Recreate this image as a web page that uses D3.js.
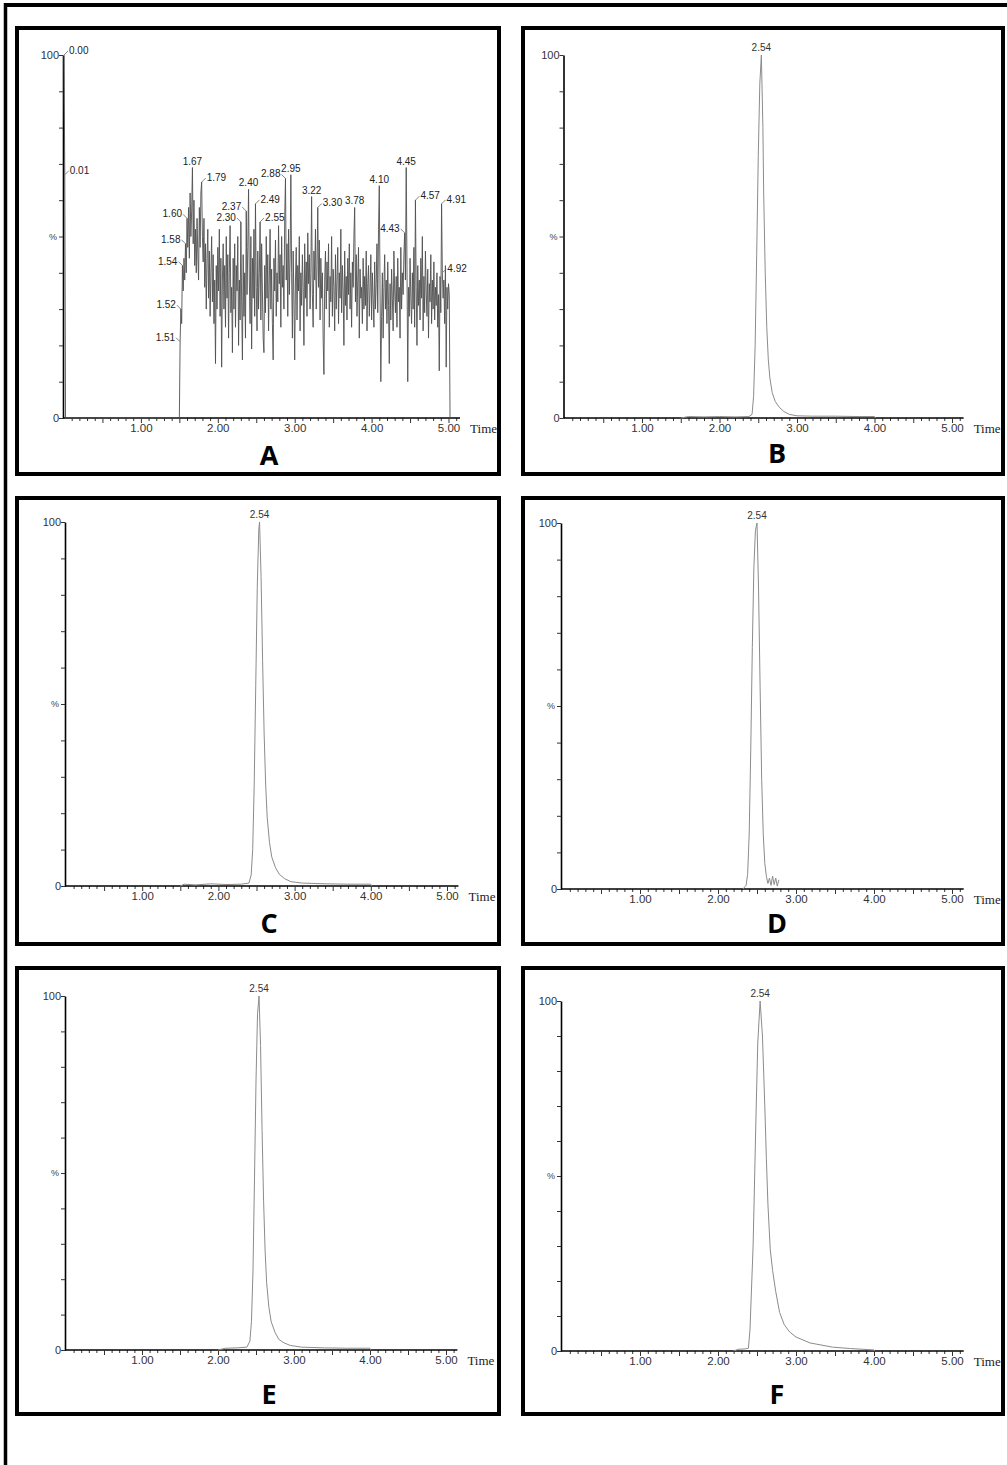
<!DOCTYPE html>
<html>
<head>
<meta charset="utf-8">
<script src="https://cdn.jsdelivr.net/npm/d3@7"></script>
<style>
  body { margin: 0; background: #fff; }
  svg { display: block; }
  .tick text { font-family: "Liberation Sans", Arial, sans-serif; }
</style>
</head>
<body>
<div id="chart"></div>
<script>
// tick labels
const xTickLabels = ["1.00", "2.00", "3.00", "4.00", "5.00"];
const yTickLabels = ["0", "100"];

// A - noisy trace (blank)
const aLeadTime = [0.00, 0.01, 0.02, 1.50];
const aLeadValue = [100, 67, 0, 0];
const aScanStart = 1.51, aScanStep = 0.01;   // scan rate of the record
const aScanValue = [
  21, 30, 26, 42, 35, 44, 38, 48, 40, 55,
  47, 58, 44, 62, 50, 57, 69, 48, 60, 42,
  52, 40, 55, 45, 38, 58, 47, 62, 65, 50,
  43, 55, 36, 48, 30, 44, 52, 33, 46, 28,
  40, 50, 32, 45, 26, 38, 15, 42, 30, 47,
  35, 52, 28, 44, 14, 38, 48, 30, 42, 25,
  50, 33, 45, 22, 40, 53, 29, 36, 18, 44,
  30, 48, 25, 42, 35, 50, 20, 38, 27, 54,
  32, 16, 45, 28, 40, 22, 57, 34, 47, 63,
  38, 26, 50, 19, 44, 33, 52, 28, 59, 36,
  24, 46, 30, 40, 54, 27, 48, 35, 22, 18,
  42, 29, 50, 33, 45, 24, 38, 52, 30, 41,
  26, 16, 44, 35, 49, 28, 40, 32, 53, 37,
  45, 25, 50, 36, 42, 30, 55, 66, 38, 48,
  28, 52, 34, 44, 67, 40, 22, 46, 33, 16,
  38, 47, 27, 42, 35, 50, 24, 40, 31, 45,
  36, 20, 48, 33, 43, 28, 51, 37, 45, 30,
  40, 61, 34, 25, 46, 38, 52, 30, 42, 58,
  36, 49, 27, 44, 33, 40, 22, 12, 38, 46,
  30, 43, 35, 48, 25, 39, 32, 50, 28, 41,
  36, 24, 45, 30, 38, 47, 26, 40, 33, 52,
  29, 42, 35, 20, 46, 31, 39, 27, 44, 34,
  48, 30, 40, 25, 43, 36, 50, 58, 32, 45,
  28, 38, 47, 22, 41, 33, 36, 26, 44, 30,
  39, 31, 46, 24, 37, 42, 28, 35, 45, 27,
  40, 33, 25, 43, 30, 37, 48, 29, 52, 64,
  35, 10, 28, 40, 22, 36, 45, 30, 38, 26,
  43, 31, 15, 37, 27, 41, 33, 24, 46, 35,
  29, 39, 25, 44, 32, 36, 22, 47, 30, 40,
  34, 45, 51, 38, 69, 42, 10, 36, 28, 44,
  33, 26, 40, 30, 47, 25, 60, 36, 20, 42,
  31, 38, 27, 44, 33, 50, 24, 39, 29, 46,
  35, 28, 41, 22, 37, 32, 45, 26, 38, 30,
  43, 27, 36, 31, 40, 25, 34, 13, 39, 29,
  59, 40, 33, 38, 26, 42, 14, 36, 30, 37,
  34
];
const aTailTime = [5.02];
const aTailValue = [0];
const aPeakLabels = ["0.00", "0.01", "1.51", "1.52", "1.54", "1.58", "1.60", "1.67", "1.79",
  "2.30", "2.37", "2.40", "2.49", "2.55", "2.88", "2.95", "3.22", "3.30", "3.78",
  "4.10", "4.43", "4.45", "4.57", "4.91", "4.92"];

// B - E : single peak at 2.54
const bTime  = [1.50, 1.60, 1.80, 2.00, 2.20, 2.38, 2.42, 2.44, 2.46, 2.48, 2.50, 2.52, 2.54, 2.56, 2.57, 2.59, 2.61, 2.63, 2.65, 2.68, 2.72, 2.77, 2.83, 2.90, 3.00, 3.20, 3.50, 3.80, 4.00, 4.01];
const bValue = [0, 0.4, 0.3, 0.4, 0.3, 0.4, 1, 6, 20, 45, 72, 92, 100, 80, 62, 40, 25, 16, 11, 7, 4.5, 3, 1.8, 1, 0.6, 0.5, 0.5, 0.4, 0.4, 0];

const cTime  = [1.50, 1.55, 1.70, 1.90, 2.10, 2.30, 2.40, 2.43, 2.45, 2.47, 2.49, 2.51, 2.53, 2.54, 2.56, 2.58, 2.60, 2.62, 2.64, 2.67, 2.70, 2.75, 2.80, 2.87, 2.95, 3.10, 3.40, 3.70, 4.00, 4.01];
const cValue = [0, 0.5, 0.3, 0.6, 0.4, 0.5, 0.8, 3, 10, 28, 55, 82, 98, 100, 85, 62, 42, 28, 19, 12, 8, 5, 3.2, 2, 1.2, 0.8, 0.6, 0.5, 0.5, 0];

const dTime  = [2.32, 2.36, 2.38, 2.40, 2.42, 2.44, 2.46, 2.48, 2.50, 2.52, 2.54, 2.56, 2.58, 2.60, 2.62, 2.64, 2.66, 2.68, 2.70, 2.72, 2.74, 2.76, 2.78];
const dValue = [0, 1, 4, 15, 38, 66, 88, 98, 100, 82, 55, 30, 15, 7, 3.5, 1.5, 3, 1, 3.5, 1.2, 3, 0.8, 2.5];

const eTime  = [2.00, 2.10, 2.25, 2.38, 2.42, 2.44, 2.46, 2.48, 2.50, 2.52, 2.54, 2.56, 2.58, 2.60, 2.62, 2.64, 2.67, 2.70, 2.75, 2.80, 2.87, 2.95, 3.10, 3.40, 3.70, 4.00, 4.01];
const eValue = [0, 0.5, 0.6, 0.8, 2.5, 8, 22, 48, 76, 95, 100, 86, 62, 42, 28, 19, 12, 8, 5, 3, 2, 1.3, 0.8, 0.6, 0.5, 0.5, 0];

// F - broader peak with long tail
const fTime  = [2.20, 2.26, 2.35, 2.39, 2.41, 2.43, 2.45, 2.47, 2.49, 2.51, 2.54, 2.57, 2.60, 2.62, 2.64, 2.67, 2.70, 2.74, 2.79, 2.85, 2.92, 3.00, 3.18, 3.47, 3.70, 4.00, 4.01];
const fValue = [0, 0.5, 0.6, 0.8, 6, 18, 30, 50, 70, 88, 100, 90, 70, 55, 42, 29, 23, 17, 11, 7.5, 5.4, 4, 2.3, 1.1, 0.7, 0.3, 0];

const peakLabel = "2.54";

// ---- layout ----
const W = 1007, H = 1465;
const panels = [
  {letter: "A", box: [17, 28, 482, 446], x0: 64,    ppu: 76.9, yTop: 55,   yZero: 418,  letterY: 465},
  {letter: "B", box: [523, 28, 480, 446], x0: 564.5, ppu: 77.5, yTop: 55,   yZero: 418,  letterY: 463},
  {letter: "C", box: [17, 498, 482, 446], x0: 66,    ppu: 76.2, yTop: 522,  yZero: 886,  letterY: 933},
  {letter: "D", box: [523, 498, 480, 446], x0: 562,  ppu: 78,   yTop: 523,  yZero: 889,  letterY: 933},
  {letter: "E", box: [17, 968, 482, 446], x0: 66,    ppu: 76,   yTop: 996,  yZero: 1350, letterY: 1404},
  {letter: "F", box: [523, 968, 480, 446], x0: 562,  ppu: 78,   yTop: 1001, yZero: 1351, letterY: 1404}
];

// where A's peak labels sit relative to their apex
const aLabelPlace = {
  "0.00": "right", "0.01": "right", "1.51": "left", "1.52": "left", "1.54": "left",
  "1.58": "left", "1.60": "left", "1.67": "up", "1.79": "right", "2.30": "left",
  "2.37": "left", "2.40": "up", "2.49": "right", "2.55": "right", "2.88": "left",
  "2.95": "up", "3.22": "up", "3.30": "right", "3.78": "up", "4.10": "up",
  "4.43": "left", "4.45": "up", "4.57": "right", "4.91": "right", "4.92": "right"
};

const svg = d3.select("#chart").append("svg")
  .attr("width", W)
  .attr("height", H);

// outer frame (top and left only)
svg.append("line").attr("x1", 4).attr("x2", W).attr("y1", 5).attr("y2", 5)
  .attr("stroke", "#000").attr("stroke-width", 4);
svg.append("line").attr("x1", 5.5).attr("x2", 5.5).attr("y1", 3).attr("y2", H)
  .attr("stroke", "#000").attr("stroke-width", 3.5);

function zipPts(t, v) {
  return t.map((d, i) => [d, v[i]]);
}

const aPoints = zipPts(aLeadTime, aLeadValue)
  .concat(aScanValue.map((v, i) => [+(aScanStart + i * aScanStep).toFixed(2), v]))
  .concat(zipPts(aTailTime, aTailValue));

const traces = {
  A: aPoints,
  B: zipPts(bTime, bValue),
  C: zipPts(cTime, cValue),
  D: zipPts(dTime, dValue),
  E: zipPts(eTime, eValue),
  F: zipPts(fTime, fValue)
};

panels.forEach(p => drawPanel(p));

function drawPanel(p) {
  const g = svg.append("g");
  const [bx, by, bw, bh] = p.box;

  g.append("rect")
    .attr("x", bx).attr("y", by).attr("width", bw).attr("height", bh)
    .attr("fill", "none").attr("stroke", "#000").attr("stroke-width", 4);

  const x = d3.scaleLinear().domain([0, 5.15]).range([p.x0, p.x0 + 5.15 * p.ppu]);
  const y = d3.scaleLinear().domain([0, 100]).range([p.yZero, p.yTop]);

  // minor x ticks
  g.append("g")
    .attr("transform", `translate(0,${p.yZero})`)
    .call(d3.axisBottom(x).tickValues(d3.range(1, 52).map(i => i / 10).filter(v => (Math.round(v * 10) % 5) !== 0))
      .tickSize(3).tickFormat(""))
    .call(a => a.select(".domain").remove())
    .call(a => a.selectAll("line").attr("stroke", "#333"));

  // major x ticks + axis line
  const xAx = g.append("g")
    .attr("transform", `translate(0,${p.yZero})`)
    .attr("color", "#333")
    .call(d3.axisBottom(x).tickValues([0.5, 1, 1.5, 2, 2.5, 3, 3.5, 4, 4.5, 5])
      .tickSize(5).tickSizeOuter(0)
      .tickFormat(d => Number.isInteger(d) ? xTickLabels[d - 1] : ""));
  xAx.select(".domain").attr("stroke", "#000").attr("stroke-width", 1.6)
    .attr("d", `M${p.x0 - 1},0H${x(5.15)}`);
  xAx.selectAll("text").attr("y", 6).attr("font-size", 11.5);

  // y axis
  const yAx = g.append("g")
    .attr("transform", `translate(${p.x0 - 1},0)`)
    .attr("color", "#333")
    .call(d3.axisLeft(y).tickValues(d3.range(0, 101, 10)).tickSize(4).tickSizeOuter(0)
      .tickFormat(d => d === 0 ? yTickLabels[0] : d === 100 ? yTickLabels[1] : ""));
  yAx.select(".domain").attr("stroke", "#000").attr("stroke-width", 1.6);
  yAx.selectAll("text").attr("x", -4).attr("font-size", 11);

  g.append("text")
    .attr("x", p.x0 - 11).attr("y", (p.yTop + p.yZero) / 2 + 3)
    .attr("text-anchor", "middle")
    .attr("font-family", "Liberation Sans, Arial, sans-serif")
    .attr("font-size", 9).attr("fill", "#444")
    .text("%");

  g.append("text")
    .attr("x", x(5.15) + 10).attr("y", p.yZero + 15)
    .attr("font-family", "Liberation Serif, Times New Roman, serif")
    .attr("font-size", 13).attr("fill", "#222")
    .text("Time");

  // trace
  const line = d3.line().x(d => x(d[0])).y(d => y(d[1]));
  const isA = p.letter === "A";
  g.append("path")
    .datum(traces[p.letter])
    .attr("d", line)
    .attr("fill", "none")
    .attr("stroke", isA ? "#505050" : "#8c8c8c")
    .attr("stroke-width", isA ? 0.9 : 1);

  // peak labels
  const lblFont = "Liberation Sans, Arial, sans-serif";
  if (isA) {
    aPeakLabels.forEach(lbl => {
      const t = +lbl;
      const pt = traces.A.find(d => Math.abs(d[0] - t) < 0.001);
      const ax = x(pt[0]), ay = y(pt[1]);
      const place = aLabelPlace[lbl];
      if (place === "up") {
        g.append("text").attr("x", ax).attr("y", ay - 3)
          .attr("text-anchor", "middle")
          .attr("font-family", lblFont).attr("font-size", 10).attr("fill", "#222")
          .text(lbl);
      } else {
        const s = place === "left" ? -1 : 1;
        g.append("line")
          .attr("x1", ax).attr("y1", ay)
          .attr("x2", ax + s * 4).attr("y2", ay - 4)
          .attr("stroke", "#666").attr("stroke-width", 0.8);
        g.append("text").attr("x", ax + s * 5).attr("y", ay - 1)
          .attr("text-anchor", s < 0 ? "end" : "start")
          .attr("font-family", lblFont).attr("font-size", 10).attr("fill", "#222")
          .text(lbl);
      }
    });
  } else {
    const top = traces[p.letter].reduce((a, b) => (b[1] > a[1] ? b : a));
    g.append("text").attr("x", x(top[0])).attr("y", y(top[1]) - 4)
      .attr("text-anchor", "middle")
      .attr("font-family", lblFont).attr("font-size", 10).attr("fill", "#333")
      .text(peakLabel);
  }

  // panel letter
  g.append("text")
    .attr("x", bx + bw / 2 + (p.letter === "A" || p.letter === "C" || p.letter === "E" ? 11 : 14))
    .attr("y", p.letterY)
    .attr("text-anchor", "middle")
    .attr("font-family", "Open Sans, sans-serif")
    .attr("font-weight", 700).attr("font-size", 27)
    .text(p.letter);
}
</script>
</body>
</html>
